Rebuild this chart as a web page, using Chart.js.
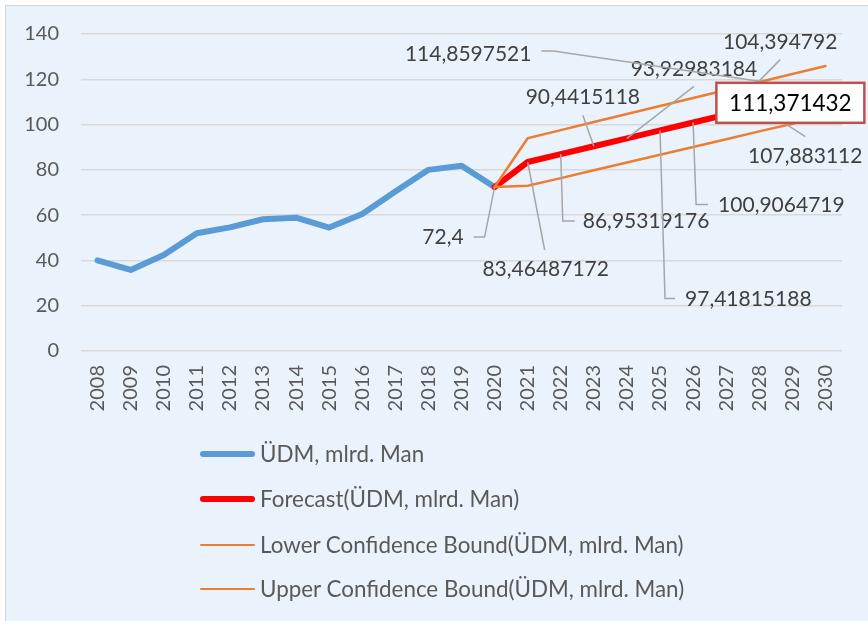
<!DOCTYPE html>
<html>
<head>
<meta charset="utf-8">
<script src="https://cdn.jsdelivr.net/npm/chart.js@4.4.1/dist/chart.umd.min.js"></script>
<style>
html,body{margin:0;padding:0;background:#ffffff;width:868px;height:621px;overflow:hidden;}
#frame{position:absolute;left:5px;top:5px;width:880px;height:630px;background:#EAF3FC;border-left:1.5px solid #d6d6d6;border-top:1.5px solid #d6d6d6;}
#wrap{position:absolute;left:0;top:0;width:868px;height:621px;}
.lg{position:absolute;left:200px;height:26px;font-family:Lato,"Open Sans",sans-serif;font-size:22.4px;color:#595959;white-space:nowrap;}
.lg .sw{position:absolute;left:0;width:55px;}
.lg .tx{position:absolute;left:60px;top:0;line-height:26px;}
</style>
</head>
<body>
<div id="frame"></div>
<div id="wrap"><canvas id="c"></canvas></div>
<div id="legend"></div>
<script>
// ---- data ----
const years = ['2008','2009','2010','2011','2012','2013','2014','2015','2016','2017','2018','2019','2020','2021','2022','2023','2024','2025','2026','2027','2028','2029','2030'];
const udm = [40.0, 35.8, 42.4, 52.0, 54.6, 58.2, 58.9, 54.5, 60.5, 70.4, 80.0, 81.8, 72.4, null, null, null, null, null, null, null, null, null, null];
const forecast = [null, null, null, null, null, null, null, null, null, null, null, null, 72.4, 83.46487172, 86.95319176, 90.4415118, 93.92983184, 97.41815188, 100.9064719, 104.394792, 107.883112, 111.371432, 114.8597521];
const lowerBound = [null, null, null, null, null, null, null, null, null, null, null, null, 72.4, 72.95, 76.35, 79.8, 83.25, 86.65, 90.1, 93.55, 97.0, 100.4, 103.85];
const upperBound = [null, null, null, null, null, null, null, null, null, null, null, null, 72.4, 93.95, 97.55, 101.1, 104.65, 108.2, 111.7, 115.25, 118.8, 122.35, 125.85];
const yTicks = [0, 20, 40, 60, 80, 100, 120, 140];
const seriesNames = ['ÜDM, mlrd. Man', 'Forecast(ÜDM, mlrd. Man)', 'Lower Confidence Bound(ÜDM, mlrd. Man)', 'Upper Confidence Bound(ÜDM, mlrd. Man)'];

// ---- label placement (offsets from the data point, in px) ----
const labelLayout = [
  {i:12, tx:-31, ty:50,  align:'right',  path:[[-21,50],[-10,50]]},
  {i:13, tx:18,  ty:107, align:'center', path:[[17,88]]},
  {i:14, tx:22,  ty:67,  align:'left',   path:[[14,67],[2,67]]},
  {i:15, tx:-11, ty:-49, align:'center', path:[[-11,-31]]},
  {i:16, tx:67,  ty:-69, align:'center', path:[[67,-52]]},
  {i:17, tx:25,  ty:169, align:'left',   path:[[15,168],[5,168]]},
  {i:18, tx:25,  ty:83,  align:'left',   path:[[15,82],[3,82]]},
  {i:19, tx:54,  ty:-72, align:'center', path:[[54,-55]]},
  {i:20, tx:46,  ty:50,  align:'center', path:[[46,30]]},
  {i:22, tx:-294,ty:-37, align:'right',  path:[[-284,-40],[-272,-40]]}
];
const boxedIndex = 21;

const fmt = v => String(v).replace('.', ',');

const labelPlugin = {
  id: 'fcLabels',
  afterDatasetsDraw(chart) {
    const ctx = chart.ctx;
    const meta = chart.getDatasetMeta(1);
    ctx.save();
    ctx.font = '21px Lato, "Open Sans", sans-serif';
    ctx.textBaseline = 'middle';
    labelLayout.forEach(L => {
      const el = meta.data[L.i];
      const px = el.x, py = el.y;
      ctx.strokeStyle = '#a6a6a6';
      ctx.lineWidth = 1.5;
      ctx.beginPath();
      ctx.moveTo(px + L.path[0][0], py + L.path[0][1]);
      for (let k = 1; k < L.path.length; k++) ctx.lineTo(px + L.path[k][0], py + L.path[k][1]);
      ctx.lineTo(px, py);
      ctx.stroke();
      ctx.fillStyle = '#404040';
      ctx.textAlign = L.align;
      ctx.fillText(fmt(forecast[L.i]), px + L.tx, py + L.ty);
    });
    // boxed label
    const b = meta.data[boxedIndex];
    const bw = 148, bh = 40;
    const bx = b.x - 2 - bw / 2, by = b.y + 4 - bh / 2;
    ctx.fillStyle = '#ffffff';
    ctx.fillRect(bx, by, bw, bh);
    ctx.strokeStyle = '#C0504D';
    ctx.lineWidth = 2.5;
    ctx.strokeRect(bx, by, bw, bh);
    ctx.fillStyle = '#000000';
    ctx.font = '22.5px Lato, "Open Sans", sans-serif';
    ctx.textAlign = 'center';
    ctx.fillText(fmt(forecast[boxedIndex]), bx + bw / 2, by + bh / 2 + 1);
    ctx.restore();
  }
};

const colors = ['#5B9BD5', '#FF0000', '#ED7D31', '#ED7D31'];
const widths = [6, 6, 2.5, 2.5];

new Chart(document.getElementById('c'), {
  type: 'line',
  data: {
    labels: years,
    datasets: [
      {label: seriesNames[0], data: udm, borderColor: colors[0], borderWidth: widths[0], order: 3},
      {label: seriesNames[1], data: forecast, borderColor: colors[1], borderWidth: widths[1], order: 2},
      {label: seriesNames[2], data: lowerBound, borderColor: colors[2], borderWidth: widths[2], order: 1},
      {label: seriesNames[3], data: upperBound, borderColor: colors[3], borderWidth: widths[3], order: 0}
    ]
  },
  options: {
    responsive: true,
    maintainAspectRatio: false,
    animation: false,
    devicePixelRatio: 1,
    layout: {padding: {top: 34, right: 26, bottom: 200, left: 0}},
    elements: {
      point: {radius: 0, hoverRadius: 0},
      line: {tension: 0, borderJoinStyle: 'round', borderCapStyle: 'round', fill: false}
    },
    plugins: {legend: {display: false}, tooltip: {enabled: false}},
    scales: {
      x: {
        offset: true,
        grid: {display: false, drawTicks: false},
        border: {display: false},
        ticks: {color: '#595959', font: {family: 'Lato', size: 20}, minRotation: 90, maxRotation: 90, autoSkip: false, padding: 14},
        afterFit: s => { s.height = 70; }
      },
      y: {
        min: 0, max: 140,
        grid: {color: '#d9d9d9', lineWidth: 1.5, drawTicks: false},
        border: {display: false},
        afterBuildTicks: s => { s.ticks = yTicks.map(v => ({value: v})); },
        ticks: {color: '#595959', font: {family: 'Lato', size: 20}, padding: 22},
        afterFit: s => { s.width = 81; }
      }
    }
  },
  plugins: [labelPlugin]
});

// ---- legend ----
const legendRows = [454, 499, 545, 589];
const lg = document.getElementById('legend');
seriesNames.forEach((n, k) => {
  const row = document.createElement('div');
  row.className = 'lg';
  row.style.top = (legendRows[k] - 13) + 'px';
  const sw = document.createElement('span');
  sw.className = 'sw';
  sw.style.height = widths[k] + 'px';
  sw.style.top = (13 - widths[k] / 2) + 'px';
  sw.style.background = colors[k];
  sw.style.borderRadius = (widths[k] / 2) + 'px';
  const tx = document.createElement('span');
  tx.className = 'tx';
  tx.textContent = n;
  row.appendChild(sw); row.appendChild(tx);
  lg.appendChild(row);
});
</script>
</body>
</html>
